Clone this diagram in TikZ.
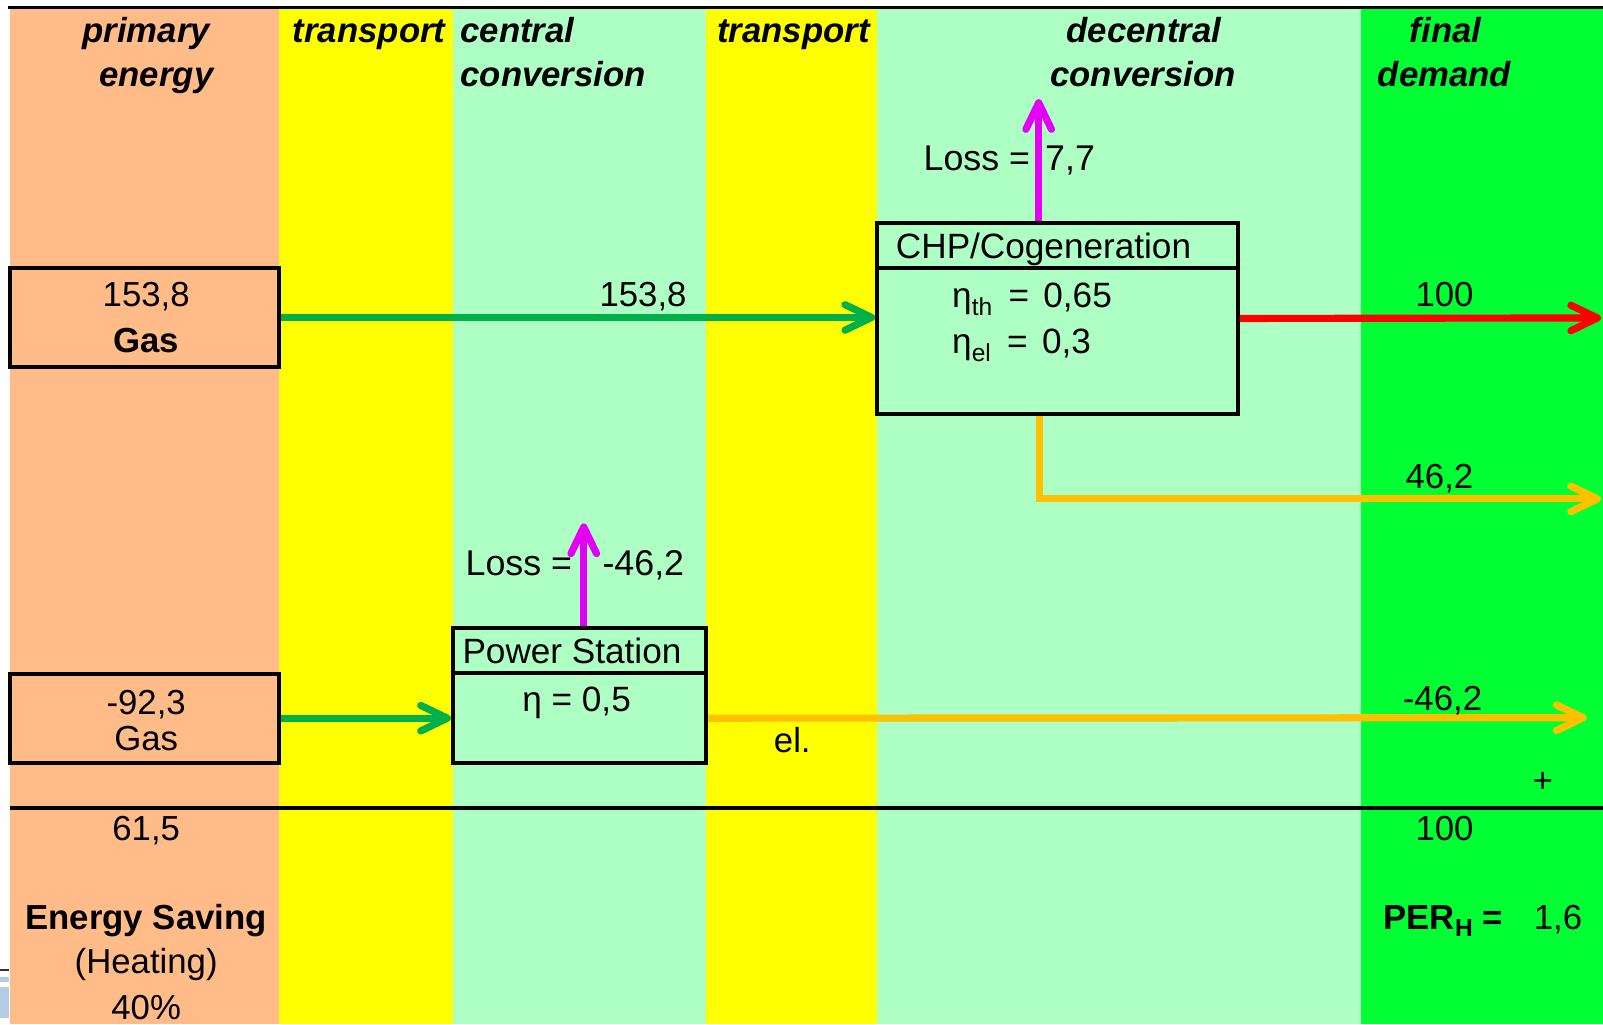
\documentclass[tikz,border=0pt]{standalone}
\usepackage{fontspec}
\setmainfont{Liberation Sans}
\usetikzlibrary{arrows.meta}
\definecolor{peach}{HTML}{FFBB88}
\definecolor{yel}{HTML}{FFFF00}
\definecolor{lgreen}{HTML}{AEFFC4}
\definecolor{bgreen}{HTML}{00FF33}
\definecolor{agreen}{HTML}{00B14A}
\definecolor{aorange}{HTML}{FFC000}
\definecolor{amag}{HTML}{E400F4}
\definecolor{ared}{HTML}{FF0000}
\definecolor{lblue}{HTML}{B4CDE6}
\newcommand{\subsc}[1]{\raisebox{-0.4ex}{\fontsize{12}{12}\selectfont #1}}
\tikzset{
  lbl/.style={font=\fontsize{17}{20}\selectfont, inner sep=0pt, anchor=base},
  lblb/.style={font=\fontsize{17}{20}\selectfont\bfseries, inner sep=0pt, anchor=base},
  boxtxt/.style={font=\fontsize{17.2}{20}\selectfont, inner sep=0pt, anchor=base west},
  losstxt/.style={font=\fontsize{17.5}{20}\selectfont, inner sep=0pt},
  hdr/.style={font=\fontsize{17}{20}\selectfont\bfseries\itshape, inner sep=0pt, anchor=base},
  box/.style={draw=black, line width=2pt, inner sep=0pt},
  flow/.style={line width=3.5pt, -{Straight Barb[length=13pt,width=12.5pt,line cap=round,line join=round]}},
  rule/.style={line width=2pt, black},
}
\begin{document}
\begin{tikzpicture}[x=0.5pt,y=-0.5pt]
\useasboundingbox (0,0) rectangle (1568,1002);
% columns
\fill[peach] (10,9) rectangle (273,1002);
\fill[yel] (273,9) rectangle (443,1002);
\fill[lgreen] (443,9) rectangle (691,1002);
\fill[yel] (691,9) rectangle (858,1002);
\fill[lgreen] (858,9) rectangle (1331,1002);
\fill[bgreen] (1331,9) rectangle (1568,1002);
% left-edge remnants
\draw[line width=0.8pt, black!80] (0,949) -- (9,949);
\fill[lblue] (0,956) rectangle (9,961);
\fill[lblue] (0,965) rectangle (9,996);
% rules
\draw[line width=1.6pt] (8,7) -- (1568,7);
\draw[rule] (10,790) -- (1568,790);
% headers
\node[hdr] at (143,42) {primary};
\node[hdr] at (153,85) {energy};
\node[hdr] at (361,42) {transport};
\node[hdr, anchor=base west] at (450,42) {central};
\node[hdr, anchor=base west] at (450,85) {conversion};
\node[hdr] at (776,42) {transport};
\node[hdr] at (1119,42) {decentral};
\node[hdr] at (1118,85) {conversion};
\node[hdr] at (1414,42) {final};
\node[hdr] at (1413,85) {demand};
% boxes
\node[box, fill=peach, minimum width=131.5pt, minimum height=48.5pt] (gas1) at (141.5,310.5) {};
\node[box, fill=peach, minimum width=131.5pt, minimum height=43.5pt] (gas2) at (141.5,702.5) {};
\node[box, fill=lgreen, minimum width=124pt, minimum height=66pt] (ps) at (567,680) {};
\node[box, fill=lgreen, minimum width=176.5pt, minimum height=93.5pt] (chp) at (1034.5,311.5) {};
\draw[rule] (ps.west |- 0,658) -- (ps.east |- 0,658);
\draw[rule] (chp.west |- 0,262) -- (chp.east |- 0,262);
% box texts
\node[lbl] at (143,300) {153,8};
\node[lblb] at (143,345) {Gas};
\node[lbl] at (143,699) {-92,3};
\node[lbl] at (143,734) {Gas};
\node[boxtxt] at (452,649) {Power Station};
\node[boxtxt, anchor=base] at (564,696) {η = 0,5};
\node[boxtxt] at (876,253) {CHP/Cogeneration};
\node[boxtxt] at (931,301) {η\subsc{th}\hspace{8pt}=\hspace{7pt}0,65};
\node[boxtxt] at (931,346) {η\subsc{el}\hspace{8pt}=\hspace{7pt}0,3};
% coordinates
\coordinate (redend) at (1566,311);
\coordinate (bend) at (1017,488);
\coordinate (orend1) at (1566,488);
\coordinate (orend2) at (1552,702);
\coordinate (loss1) at (1016,97);
\coordinate (loss2) at (571,512);
% flows
\draw[flow, agreen] (gas1.east) -- (gas1.east -| chp.west);
\draw[flow, agreen] (gas2.east) -- (gas2.east -| ps.west);
\draw[flow, ared] (chp.east) -- (redend);
\draw[flow, aorange, line join=miter] (chp.south -| bend) -- (bend) -- (orend1);
\draw[flow, aorange] (ps.east |- gas2.east) -- (orend2);
\draw[flow, amag] (chp.north -| loss1) -- (loss1);
\draw[flow, amag] (ps.north -| loss2) -- (loss2);
% flow labels
\node[lbl] at (629,300) {153,8};
\node[lbl] at (1413,300) {100};
\node[lbl] at (1408,478) {46,2};
\node[lbl] at (1411,695) {-46,2};
\node[lbl] at (775,736) {el.};
\node[losstxt, anchor=base east] at (1008,167) {Loss =};
\node[losstxt, anchor=base west] at (1022,167) {7,7};
\node[losstxt, anchor=base east] at (560,563) {Loss =};
\node[losstxt, anchor=base west] at (589,563) {-46,2};
% bottom
\node[lbl] at (1509,775) {+};
\node[lbl] at (143,822) {61,5};
\node[lbl] at (1413,822) {100};
\node[lblb] at (143,909) {Energy Saving};
\node[lbl] at (143,952) {(Heating)};
\node[lbl] at (143,997) {40\%};
\node[lblb, anchor=base west] at (1353,909) {PER\subsc{H} =};
\node[lbl, anchor=base west] at (1500,909) {1,6};
\end{tikzpicture}
\end{document}
